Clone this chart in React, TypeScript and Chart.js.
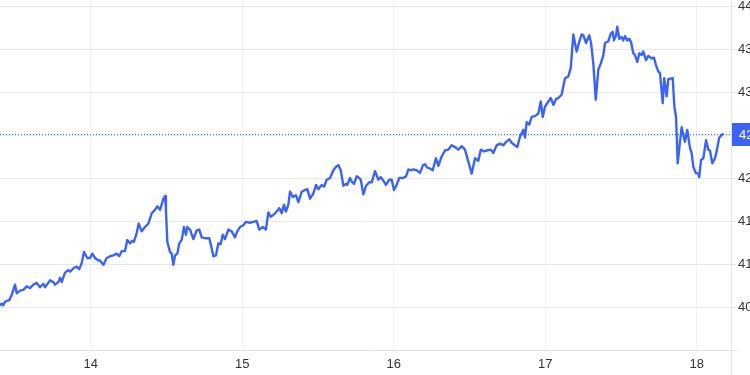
import { useEffect, useRef } from 'react';
import { Chart, registerables } from 'chart.js';

Chart.register(...registerables);

const dates = [
  13.401, 13.412, 13.421, 13.434, 13.445, 13.462, 13.478, 13.5, 13.511, 13.533,
  13.555, 13.577, 13.599, 13.621, 13.643, 13.665, 13.687, 13.698, 13.731, 13.753,
  13.764, 13.786, 13.797, 13.808, 13.83, 13.852, 13.863, 13.885, 13.907, 13.924,
  13.94, 13.955, 13.977, 13.995, 14.01, 14.028, 14.05, 14.061, 14.083, 14.105,
  14.127, 14.149, 14.171, 14.188, 14.204, 14.226, 14.241, 14.259, 14.274, 14.285,
  14.303, 14.316, 14.336, 14.358, 14.38, 14.402, 14.424, 14.439, 14.457, 14.479,
  14.49, 14.496, 14.505, 14.523, 14.534, 14.545, 14.556, 14.571, 14.584, 14.6,
  14.615, 14.628, 14.637, 14.655, 14.677, 14.699, 14.716, 14.732, 14.754, 14.782,
  14.793, 14.809, 14.826, 14.842, 14.857, 14.871, 14.886, 14.908, 14.93, 14.952,
  14.967, 14.985, 15.007, 15.024, 15.051, 15.073, 15.095, 15.112, 15.135, 15.156,
  15.172, 15.187, 15.205, 15.227, 15.244, 15.26, 15.275, 15.288, 15.304, 15.315,
  15.333, 15.354, 15.37, 15.392, 15.414, 15.429, 15.447, 15.469, 15.487, 15.502,
  15.524, 15.54, 15.557, 15.579, 15.601, 15.619, 15.634, 15.65, 15.667, 15.684,
  15.693, 15.711, 15.722, 15.737, 15.755, 15.772, 15.782, 15.799, 15.817, 15.838,
  15.854, 15.876, 15.898, 15.914, 15.927, 15.948, 15.97, 15.986, 16.001, 16.019,
  16.036, 16.063, 16.081, 16.096, 16.112, 16.129, 16.151, 16.173, 16.193, 16.206,
  16.221, 16.239, 16.257, 16.278, 16.294, 16.316, 16.338, 16.36, 16.382, 16.404,
  16.426, 16.448, 16.47, 16.492, 16.514, 16.536, 16.558, 16.574, 16.595, 16.613,
  16.64, 16.657, 16.679, 16.701, 16.723, 16.741, 16.762, 16.778, 16.8, 16.815,
  16.833, 16.855, 16.866, 16.877, 16.894, 16.91, 16.932, 16.954, 16.97, 16.983,
  16.998, 17.02, 17.036, 17.053, 17.071, 17.086, 17.108, 17.13, 17.152, 17.168,
  17.185, 17.196, 17.207, 17.225, 17.24, 17.251, 17.269, 17.29, 17.302, 17.317,
  17.333, 17.35, 17.366, 17.383, 17.394, 17.416, 17.432, 17.445, 17.453, 17.467,
  17.475, 17.488, 17.504, 17.515, 17.526, 17.541, 17.554, 17.566, 17.581, 17.592,
  17.607, 17.621, 17.636, 17.647, 17.665, 17.68, 17.702, 17.717, 17.731, 17.746,
  17.757, 17.775, 17.785, 17.801, 17.812, 17.841, 17.852, 17.863, 17.874, 17.885,
  17.9, 17.911, 17.922, 17.937, 17.955, 17.966, 17.977, 17.993, 18.01, 18.016,
  18.028, 18.043, 18.061, 18.076, 18.087, 18.102, 18.12, 18.131, 18.148, 18.171,
];

const prices = [
  4052, 4054, 4052, 4056, 4057, 4058, 4064, 4076, 4066, 4069,
  4070, 4074, 4072, 4076, 4078, 4073, 4077, 4073, 4081, 4079,
  4076, 4079, 4084, 4079, 4090, 4093, 4091, 4095, 4097, 4094,
  4101, 4114, 4107, 4107, 4112, 4107, 4104, 4104, 4099, 4107,
  4109, 4110, 4112, 4109, 4115, 4115, 4128, 4124, 4127, 4126,
  4136, 4147, 4138, 4143, 4147, 4159, 4163, 4167, 4163, 4176,
  4179, 4163, 4126, 4114, 4112, 4099, 4110, 4112, 4124, 4128,
  4143, 4134, 4143, 4140, 4129, 4139, 4140, 4131, 4130, 4130,
  4122, 4109, 4110, 4124, 4123, 4134, 4129, 4140, 4138, 4131,
  4138, 4143, 4145, 4149, 4148, 4149, 4150, 4140, 4143, 4140,
  4160, 4155, 4157, 4161, 4165, 4159, 4169, 4161, 4169, 4184,
  4178, 4180, 4172, 4184, 4186, 4187, 4176, 4182, 4192, 4187,
  4192, 4190, 4198, 4200, 4209, 4213, 4215, 4209, 4191, 4193,
  4192, 4200, 4196, 4193, 4202, 4200, 4198, 4181, 4191, 4195,
  4195, 4208, 4198, 4201, 4198, 4192, 4198, 4198, 4186, 4192,
  4200, 4200, 4202, 4210, 4209, 4210, 4209, 4206, 4215, 4216,
  4212, 4211, 4209, 4223, 4214, 4225, 4232, 4233, 4238, 4236,
  4233, 4237, 4233, 4219, 4205, 4223, 4220, 4233, 4231, 4232,
  4233, 4229, 4238, 4240, 4238, 4242, 4245, 4241, 4238, 4236,
  4248, 4256, 4247, 4265, 4262, 4271, 4272, 4275, 4289, 4271,
  4283, 4289, 4293, 4285, 4292, 4293, 4297, 4316, 4318, 4328,
  4367, 4357, 4347, 4359, 4367, 4366, 4357, 4366, 4357, 4333,
  4291, 4326, 4333, 4343, 4357, 4359, 4368, 4370, 4360, 4366,
  4376, 4362, 4364, 4360, 4365, 4360, 4362, 4358, 4345, 4343,
  4335, 4345, 4343, 4347, 4337, 4342, 4339, 4340, 4331, 4324,
  4322, 4287, 4316, 4295, 4315, 4316, 4283, 4271, 4217, 4236,
  4259, 4250, 4242, 4256, 4235, 4229, 4213, 4206, 4205, 4201,
  4221, 4223, 4244, 4233, 4232, 4217, 4223, 4231, 4247, 4251,
];

const xTickValues = [14, 15, 16, 17, 18];
const yTickValues = [4050, 4100, 4150, 4200, 4250, 4300, 4350, 4400];

const LINE_COLOR = '#3b63f6';
const FONT_FAMILY = '"Liberation Sans", Arial, sans-serif';

export default function App() {
  const ref = useRef<HTMLCanvasElement>(null);

  useEffect(() => {
    if (!ref.current) return;
    const points = dates.map((d, i) => ({ x: d, y: prices[i] }));
    const last = prices[prices.length - 1];

    const overlay = {
      id: 'overlay',
      beforeDatasetsDraw(chart: any) {
        const { ctx, chartArea, scales } = chart;
        const y = Math.round(scales.y.getPixelForValue(last)) + 0.5;
        ctx.save();
        ctx.strokeStyle = LINE_COLOR;
        ctx.lineWidth = 1;
        ctx.setLineDash([1, 2]);
        ctx.beginPath();
        ctx.moveTo(chartArea.left, y);
        ctx.lineTo(chartArea.right, y);
        ctx.stroke();
        ctx.restore();
      },
      afterDraw(chart: any) {
        const { ctx, chartArea, scales } = chart;
        const y = Math.round(scales.y.getPixelForValue(last)) + 0.5;
        ctx.save();
        ctx.strokeStyle = '#e0e3eb';
        ctx.lineWidth = 1;
        ctx.beginPath();
        ctx.moveTo(chartArea.right + 0.5, 0);
        ctx.lineTo(chartArea.right + 0.5, chart.height);
        ctx.moveTo(0, chartArea.bottom + 0.5);
        ctx.lineTo(chartArea.right + 6, chartArea.bottom + 0.5);
        ctx.stroke();
        ctx.fillStyle = LINE_COLOR;
        ctx.fillRect(chartArea.right + 1, y - 11.5, 40, 23);
        ctx.fillStyle = '#ffffff';
        ctx.font = '13px ' + FONT_FAMILY;
        ctx.textBaseline = 'middle';
        ctx.textAlign = 'left';
        ctx.fillText(last.toFixed(2), chartArea.right + 8, y + 1);
        ctx.restore();
      },
    };

    const chart = new Chart(ref.current, {
      type: 'line',
      data: {
        datasets: [
          {
            data: points,
            borderColor: LINE_COLOR,
            borderWidth: 2.4,
            borderJoinStyle: 'round',
            borderCapStyle: 'round',
            pointRadius: 0,
            tension: 0,
            fill: false,
          },
        ],
      },
      options: {
        animation: false,
        responsive: false,
        maintainAspectRatio: false,
        layout: { padding: 0 },
        plugins: { legend: { display: false }, tooltip: { enabled: false } },
        scales: {
          x: {
            type: 'linear',
            min: 13.4007,
            max: 18.2257,
            afterBuildTicks: (s: any) => {
              s.ticks = xTickValues.map((v) => ({ value: v }));
            },
            afterFit: (s: any) => {
              s.height = 25;
              s.paddingLeft = 0;
              s.paddingRight = 0;
            },
            grid: { color: '#eff1f5', drawTicks: false },
            border: { display: false },
            ticks: {
              padding: 7,
              color: '#333333',
              font: { size: 13, family: FONT_FAMILY },
              maxRotation: 0,
              callback: (v: any) => String(v),
            },
          },
          y: {
            type: 'linear',
            position: 'right',
            min: 4000,
            max: 4407,
            afterBuildTicks: (s: any) => {
              s.ticks = yTickValues.map((v) => ({ value: v }));
            },
            afterFit: (s: any) => {
              s.width = 19;
              s.paddingTop = 0;
              s.paddingBottom = 0;
            },
            grid: { color: '#e6e8ec', tickLength: 5 },
            border: { display: false },
            ticks: {
              padding: 2,
              color: '#333333',
              font: { size: 13, family: FONT_FAMILY },
              callback: (v: any) => String(v),
            },
          },
        },
      },
      plugins: [overlay],
    });

    return () => chart.destroy();
  }, []);

  return (
    <div style={{ position: 'fixed', left: 0, top: 0, width: 750, height: 375, background: '#fff', overflow: 'hidden' }}>
      <canvas ref={ref} width={750} height={375} style={{ width: 750, height: 375, display: 'block' }} />
    </div>
  );
}
